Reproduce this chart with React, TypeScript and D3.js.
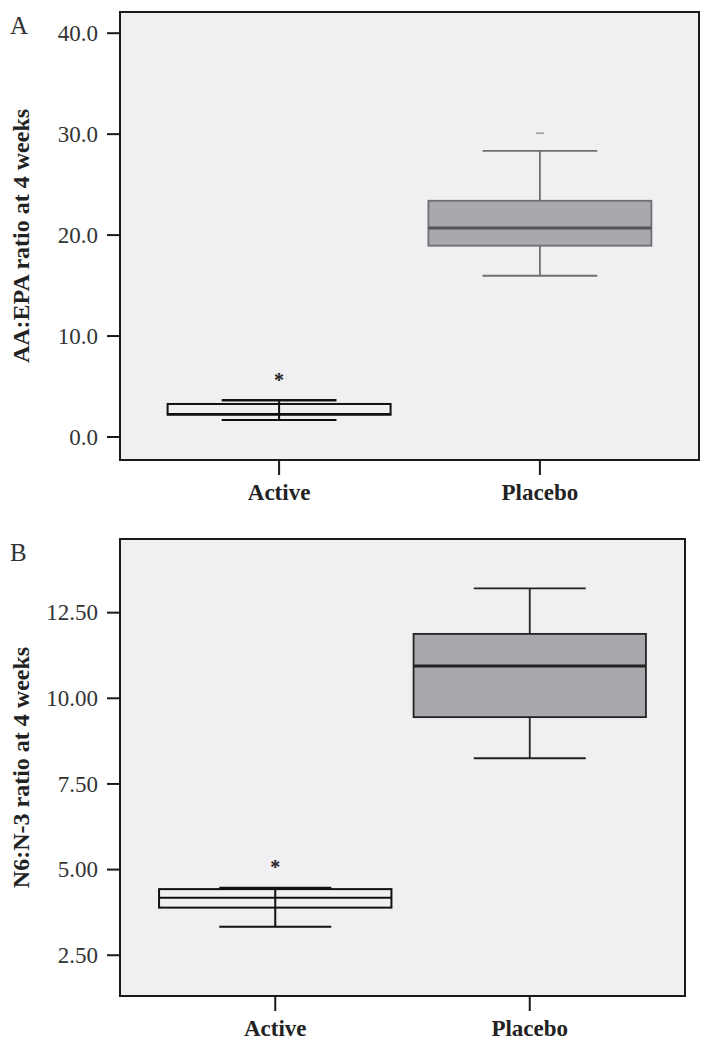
import React, { useEffect } from 'react';
import * as d3 from 'd3';

// groups on the x axis
const categories = ['Active', 'Placebo'];

// panel A: AA:EPA ratio at 4 weeks
const aWhiskerLow = [1.68, 15.97];
const aQ1 = [2.2, 18.95];
const aMedian = [2.27, 20.7];
const aQ3 = [3.27, 23.4];
const aWhiskerHigh = [3.63, 28.35];
const aStars = [6.07, null];
const aOutliers = [null, 30.1];
const aTicks = [0, 10, 20, 30, 40];

// panel B: N6:N-3 ratio at 4 weeks
const bWhiskerLow = [3.33, 8.25];
const bQ1 = [3.89, 9.45];
const bMedian = [4.18, 10.94];
const bQ3 = [4.43, 11.88];
const bWhiskerHigh = [4.46, 13.21];
const bStars = [5.19, null];
const bOutliers = [null, null];
const bTicks = [2.5, 5, 7.5, 10, 12.5];

const SERIF = '"Liberation Serif", "Times New Roman", serif';

interface PanelProps {
  letter: string;
  title: string;
  top: number;
  bottom: number;
  left: number;
  right: number;
  domain: [number, number];
  ticks: number[];
  fmt: string;
  lo: number[];
  q1: number[];
  med: number[];
  q3: number[];
  hi: number[];
  stars: (number | null)[];
  outliers: (number | null)[];
  boxFrac: number;
  placeboStroke: string;
  placeboMedian: string;
}

const Panel: React.FC<PanelProps> = (p) => {
  const x = d3.scalePoint<string>().domain(categories).range([p.left, p.right]).padding(0.61);
  const y = d3.scaleLinear().domain(p.domain).range([p.bottom, p.top]);
  const step = x.step();
  const boxW = step * p.boxFrac;
  const capW = step * 0.44;
  const format = d3.format(p.fmt);

  return (
    <g>
      <rect x={p.left} y={p.top} width={p.right - p.left} height={p.bottom - p.top}
        fill="#f0f0f2" stroke="#1a1a1a" strokeWidth={2} />
      <text x={10} y={p.top + 22} fontFamily={SERIF} fontSize={25} fill="#333">{p.letter}</text>

      {p.ticks.map((t) => (
        <g key={t}>
          <line x1={p.left - 13} x2={p.left} y1={y(t)} y2={y(t)} stroke="#1a1a1a" strokeWidth={2} />
          <text x={p.left - 22} y={y(t)} dy="0.33em" textAnchor="end" fontFamily={SERIF}
            fontSize={23} fill="#333">{format(t)}</text>
        </g>
      ))}
      <text transform={`translate(29, ${(p.top + p.bottom) / 2}) rotate(-90)`} textAnchor="middle"
        fontFamily={SERIF} fontWeight="bold" fontSize={24} fill="#222">{p.title}</text>

      {categories.map((c, i) => {
        const cx = x(c) as number;
        const placebo = i === 1;
        const stroke = placebo ? p.placeboStroke : '#111';
        const fill = placebo ? '#a8a9ad' : '#f0f0f2';
        const sw = placebo ? 1.8 : 2;
        const star = p.stars[i];
        const out = p.outliers[i];
        const whisker = (
          <line x1={cx} x2={cx} y1={y(p.lo[i])} y2={y(p.hi[i])} stroke={stroke} strokeWidth={sw} />
        );
        return (
          <g key={c}>
            <line x1={cx} x2={cx} y1={p.bottom} y2={p.bottom + 15} stroke="#1a1a1a" strokeWidth={2} />
            <text x={cx} y={p.bottom + 40} textAnchor="middle" fontFamily={SERIF} fontWeight="bold"
              fontSize={23} fill="#222">{c}</text>

            {placebo && whisker}
            <line x1={cx - capW / 2} x2={cx + capW / 2} y1={y(p.lo[i])} y2={y(p.lo[i])} stroke={stroke} strokeWidth={sw} />
            <line x1={cx - capW / 2} x2={cx + capW / 2} y1={y(p.hi[i])} y2={y(p.hi[i])} stroke={stroke}
              strokeWidth={placebo ? sw : 2.5} />
            <rect x={cx - boxW / 2} y={y(p.q3[i])} width={boxW} height={y(p.q1[i]) - y(p.q3[i])}
              fill={fill} stroke={stroke} strokeWidth={sw} />
            <line x1={cx - boxW / 2} x2={cx + boxW / 2} y1={y(p.med[i])} y2={y(p.med[i])}
              stroke={placebo ? p.placeboMedian : '#111'} strokeWidth={placebo ? 3 : 2} />
            {!placebo && whisker}
            {star !== null && (
              <text x={cx} y={y(star)} dy="0.55em" textAnchor="middle" fontFamily={SERIF}
                fontWeight="bold" fontSize={20} fill="#222">*</text>
            )}
            {out !== null && (
              <line x1={cx - 4} x2={cx + 4} y1={y(out)} y2={y(out)} stroke="#888" strokeWidth={1.2} />
            )}
          </g>
        );
      })}
    </g>
  );
};

export default function App() {
  useEffect(() => {
    document.body.style.margin = '0';
  }, []);

  return (
    <svg width={713} height={1042} style={{ display: 'block', background: '#fff' }}>
      <Panel letter="A" title="AA:EPA ratio at 4 weeks" top={12} bottom={460} left={120} right={699}
        domain={[-2.28, 42.1]} ticks={aTicks} fmt=".1f"
        lo={aWhiskerLow} q1={aQ1} med={aMedian} q3={aQ3} hi={aWhiskerHigh}
        stars={aStars} outliers={aOutliers} boxFrac={0.855}
        placeboStroke="#707072" placeboMedian="#555557" />
      <Panel letter="B" title="N6:N-3 ratio at 4 weeks" top={539} bottom={996} left={120} right={685}
        domain={[1.31, 14.65]} ticks={bTicks} fmt=".2f"
        lo={bWhiskerLow} q1={bQ1} med={bMedian} q3={bQ3} hi={bWhiskerHigh}
        stars={bStars} outliers={bOutliers} boxFrac={0.913}
        placeboStroke="#222" placeboMedian="#222" />
    </svg>
  );
}
